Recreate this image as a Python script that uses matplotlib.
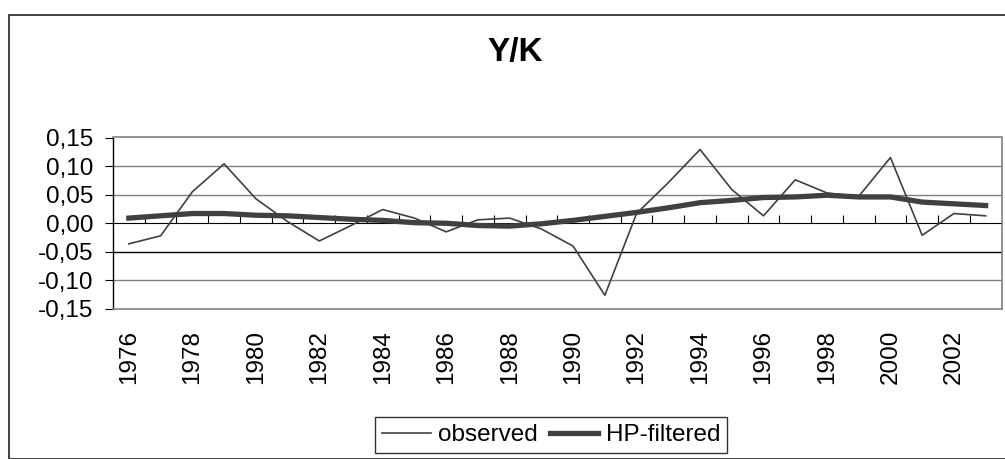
import matplotlib
matplotlib.use("Agg")
import matplotlib.pyplot as plt
from matplotlib.patches import Rectangle
from matplotlib.ticker import FuncFormatter

plt.rcParams['font.family'] = ['Liberation Sans', 'DejaVu Sans']

years = list(range(1976, 2004))
observed = [-0.036, -0.022, 0.055, 0.104, 0.043, 0.003, -0.031, -0.004,
            0.024, 0.009, -0.015, 0.006, 0.009, -0.010, -0.040, -0.126,
            0.017, 0.071, 0.129, 0.059, 0.013, 0.076, 0.053, 0.047,
            0.115, -0.021, 0.017, 0.013]
hp_filtered = [0.009, 0.013, 0.017, 0.017, 0.014, 0.013, 0.010, 0.007,
               0.005, 0.001, 0.000, -0.004, -0.005, -0.001, 0.005, 0.012,
               0.019, 0.027, 0.036, 0.040, 0.045, 0.046, 0.049, 0.046,
               0.046, 0.037, 0.034, 0.031]
y_ticks = [-0.15, -0.10, -0.05, 0.00, 0.05, 0.10, 0.15]

W, H = 1005, 459
FS = 17.5
fig = plt.figure(figsize=(W / 100, H / 100), dpi=100)

# outer chart frame (cut off on the right and bottom)
fig.patches.append(Rectangle((8.7 / W, 0), 1.2, 1 - 14.5 / H,
                             transform=fig.transFigure, fill=False,
                             edgecolor='#333333', linewidth=1.3))

ax = fig.add_axes([113 / W, 1 - 309 / H, (1001.5 - 113) / W, (309 - 137.5) / H])
x = range(len(years))
ax.plot(x, hp_filtered, color='#404040', linewidth=3.8, label='HP-filtered', zorder=3)
ax.plot(x, observed, color='#404040', linewidth=1.2, label='observed', zorder=4)

ax.set_xlim(-0.5, len(years) - 0.5)
ax.set_ylim(-0.15, 0.15)
ax.set_yticks(y_ticks)
ax.yaxis.set_major_formatter(FuncFormatter(lambda v, p: f"{v:.2f}".replace('.', ',').replace('-0,00', '0,00')))
ax.tick_params(axis='y', length=6, width=0.8, pad=8, labelsize=FS, color='black')

for v in y_ticks[1:-1]:
    if v == 0:
        continue
    ax.axhline(v, color='black' if v == -0.05 else '#808080', linewidth=1.0, zorder=1)

for s in ['top', 'right', 'bottom']:
    ax.spines[s].set_color('#808080')
    ax.spines[s].set_linewidth(1.2)
ax.spines['left'].set_color('black')
ax.spines['left'].set_linewidth(1.0)

ax.set_xticks(list(x)[::2])
ax.set_xticklabels([str(y) for y in years[::2]], rotation=90, va='top', ha='center')
ax.tick_params(axis='x', length=0, pad=15, labelsize=FS)

# category axis at zero with tick marks between categories
zero_ax = ax.secondary_xaxis(0.5)
zero_ax.set_xticks([i + 0.5 for i in range(len(years) - 1)])
zero_ax.set_xticklabels([])
zero_ax.tick_params(axis='x', direction='out', length=6, width=0.8, color='black')
zero_ax.spines['bottom'].set_color('black')
zero_ax.spines['bottom'].set_linewidth(1.0)

fig.text(515 / W, 1 - 53 / H, 'Y/K', ha='center', va='center',
         fontsize=24, fontweight='bold')

handles, labels = ax.get_legend_handles_labels()
leg = fig.legend(handles[::-1], labels[::-1], loc='center', ncol=2,
                 bbox_to_anchor=(551 / W, 1 - 435 / H), fontsize=FS,
                 frameon=True, fancybox=False, handlelength=2.0,
                 handletextpad=0.3, columnspacing=0.5, borderpad=0.3,
                 borderaxespad=0)
leg.get_frame().set_edgecolor('black')
leg.get_frame().set_linewidth(1.0)

fig.savefig('out.png', dpi=100)
